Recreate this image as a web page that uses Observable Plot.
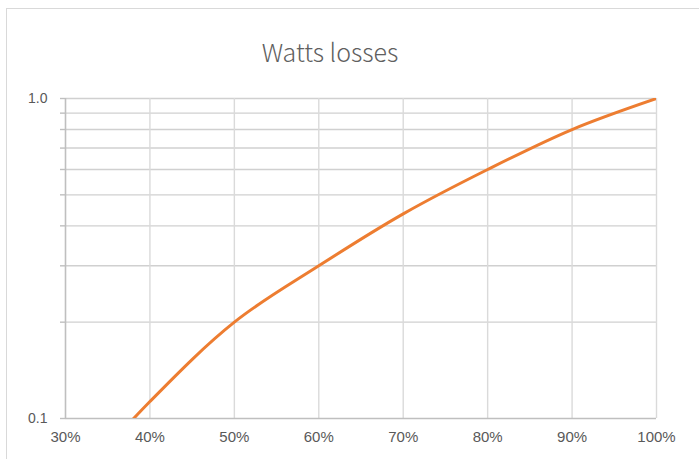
<!DOCTYPE html>
<html>
<head>
<meta charset="utf-8">
<script src="https://cdn.jsdelivr.net/npm/d3@7"></script>
<script src="https://cdn.jsdelivr.net/npm/@observablehq/plot@0.6"></script>
<style>
  html, body { margin: 0; padding: 0; background: #fff; }
  #wrap { position: relative; width: 699px; height: 459px; overflow: hidden; background: #fff; }
  #frame { position: absolute; left: 6px; top: 8px; width: 720px; height: 480px;
           border-left: 1.5px solid #d9d9d9; border-top: 1.5px solid #d9d9d9; box-sizing: border-box; }
  #title { position: absolute; left: 0; width: 660px; top: 33px; text-align: center;
           font-family: "Noto Sans CJK SC", "Noto Sans", sans-serif; font-weight: 300;
           font-size: 25px; color: #606060; }
  #chart { position: absolute; left: 0; top: 0; }
</style>
</head>
<body>
<div id="wrap">
  <div id="frame"></div>
  <div id="chart"></div>
  <div id="title">Watts losses</div>
</div>
<script>
// Data (the 30% point lies below the 0.1 floor and is clipped)
const loadPct = [0.30, 0.40, 0.50, 0.60, 0.70, 0.80, 0.90, 1.00];
const losses  = [0.058, 0.113, 0.200, 0.300, 0.436, 0.600, 0.800, 1.000];
const xTicks = [0.3, 0.4, 0.5, 0.6, 0.7, 0.8, 0.9, 1.0];
const yTicks = [0.1, 0.2, 0.3, 0.4, 0.5, 0.6, 0.7, 0.8, 0.9, 1.0];
const yTickLabels = {"0.1": "0.1", "1": "1.0"};

const data = loadPct.map((x, i) => ({x, y: losses[i]}));

const chart = Plot.plot({
  width: 699,
  height: 459,
  marginLeft: 65,
  marginRight: 43,
  marginTop: 98,
  marginBottom: 41,
  style: {color: "#595959", background: "transparent", fontFamily: "'Liberation Sans', Arial, sans-serif"},
  x: {domain: [0.3, 1.0]},
  y: {type: "log", domain: [0.1, 1.0]},
  marks: [
    Plot.ruleY(yTicks.filter(d => d > 0.1), {stroke: "#d0d0d0", strokeWidth: 1.4}),
    Plot.ruleX(xTicks.filter(d => d > 0.3), {stroke: "#dadada", strokeWidth: 1.4}),
    Plot.axisY(yTicks, {
      tickFormat: d => yTickLabels[String(d)] || "",
      tickSize: 5, tickPadding: 13, stroke: "#bfbfbf", strokeWidth: 1.4,
      fontSize: 14, label: null
    }),
    Plot.axisX(xTicks, {
      tickFormat: d3.format(".0%"),
      tickSize: 0, tickPadding: 13, fontSize: 15, label: null
    }),
    Plot.ruleX([0.3], {stroke: "#bfbfbf", strokeWidth: 1.6}),
    Plot.ruleY([0.1], {stroke: "#bfbfbf", strokeWidth: 1.6}),
    Plot.line(data, {x: "x", y: "y", stroke: "#ED7D31", strokeWidth: 3, curve: "catmull-rom", clip: true})
  ]
});
document.getElementById("chart").appendChild(chart);
</script>
</body>
</html>
